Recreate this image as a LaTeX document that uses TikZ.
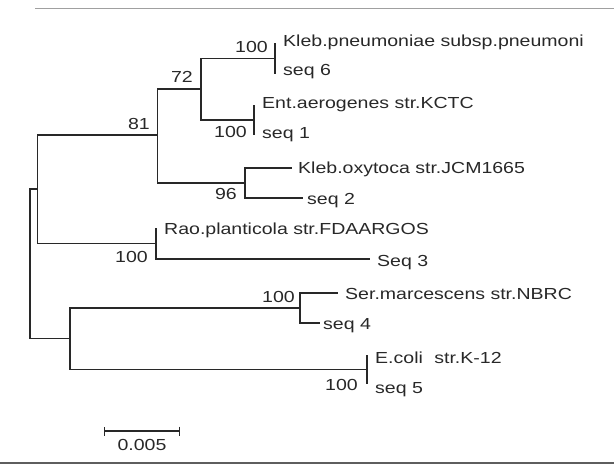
\documentclass[tikz,border=0pt]{standalone}
\usepackage{fontspec}
\setmainfont{Liberation Sans}[FakeStretch=1.22]
\usetikzlibrary{positioning, arrows.meta}
\definecolor{ink}{RGB}{40,40,40}
\definecolor{rule1}{RGB}{160,160,160}

\begin{document}
\begin{tikzpicture}[x=1pt, y=-1pt,
  branch/.style={draw=ink, line width=1.1pt},
  taxon/.style={anchor=base west, inner sep=0pt, font=\fontsize{16}{18}\selectfont, text=ink},
  boot/.style={anchor=base east, inner sep=0pt, font=\fontsize{16}{18}\selectfont, text=ink}]
\useasboundingbox (0,0) rectangle (614,468);
\draw[rule1, line width=1pt] (35,9) -- (614,9);
\draw[ink!75, line width=2pt] (0,463) -- (614,463);

% internal nodes
\coordinate (root) at (30,262.5);
\coordinate (nA)   at (37.5,189);
\coordinate (n81)  at (157.5,135);
\coordinate (n72)  at (201,89);
\coordinate (nK)   at (275,58.5);
\coordinate (nE)   at (254,120);
\coordinate (n96)  at (245,183);
\coordinate (nR)   at (156,243.5);
\coordinate (nB)   at (70,338.5);
\coordinate (nS)   at (300,308);
\coordinate (nC)   at (367,369.5);

% leaf tips
\coordinate (lK1) at (275,43);   \coordinate (lK2) at (275,74);
\coordinate (lE1) at (254,105);  \coordinate (lE2) at (254,135);
\coordinate (lO1) at (292,168);  \coordinate (lO2) at (303,198);
\coordinate (lR1) at (156,228);  \coordinate (lR2) at (370,259);
\coordinate (lS1) at (338,293);  \coordinate (lS2) at (320,323);
\coordinate (lC1) at (367,355);  \coordinate (lC2) at (367,384);

\draw[branch] (root) |- (nA);  \draw[branch] (root) |- (nB);
\draw[branch] (nA) |- (n81);   \draw[branch] (nA) |- (nR);
\draw[branch] (n81) |- (n72);  \draw[branch] (n81) |- (n96);
\draw[branch] (n72) |- (nK);   \draw[branch] (n72) |- (nE);
\draw[branch] (nK) |- (lK1);   \draw[branch] (nK) |- (lK2);
\draw[branch] (nE) |- (lE1);   \draw[branch] (nE) |- (lE2);
\draw[branch] (n96) |- (lO1);  \draw[branch] (n96) |- (lO2);
\draw[branch] (nR) |- (lR1);   \draw[branch] (nR) |- (lR2);
\draw[branch] (nB) |- (nS);    \draw[branch] (nB) |- (nC);
\draw[branch] (nS) |- (lS1);   \draw[branch] (nS) |- (lS2);
\draw[branch] (nC) |- (lC1);   \draw[branch] (nC) |- (lC2);

% taxa
\node[taxon] (tK1) at (283,47)  {Kleb.pneumoniae subsp.pneumoni};
\node[taxon] (tK2) at (283,76)  {seq 6};
\node[taxon] (tE1) at (262,109) {Ent.aerogenes str.KCTC};
\node[taxon] (tE2) at (262,139) {seq 1};
\node[taxon] (tO1) at (298,174) {Kleb.oxytoca str.JCM1665};
\node[taxon] (tO2) at (307,205) {seq 2};
\node[taxon] (tR1) at (164,235) {Rao.planticola str.FDAARGOS};
\node[taxon] (tR2) at (377,267) {Seq 3};
\node[taxon] (tS1) at (345,300) {Ser.marcescens str.NBRC};
\node[taxon] (tS2) at (323,329) {seq 4};
\node[taxon] (tC1) at (375,363) {E.coli\hspace{6pt} str.K-12};
\node[taxon] (tC2) at (375,393) {seq 5};

% bootstrap values
\node[boot] (bK)  at (268,53)  {100};
\node[boot] (b72) at (193,83)  {72};
\node[boot] (b81) at (150,130) {81};
\node[boot] (bE)  at (247,138) {100};
\node[boot] (b96) at (237,200) {96};
\node[boot] (bR)  at (148,262) {100};
\node[boot] (bS)  at (295,302) {100};
\node[boot] (bC)  at (358,390) {100};

% scale bar
\coordinate (sb0) at (104,431);
\coordinate (sb1) at (180,431);
\draw[branch, {Bar[width=9pt]}-{Bar[width=9pt]}] (sb0) -- (sb1);
\node[boot, anchor=base] (sbl) at (142,450) {0.005};
\end{tikzpicture}
\end{document}
